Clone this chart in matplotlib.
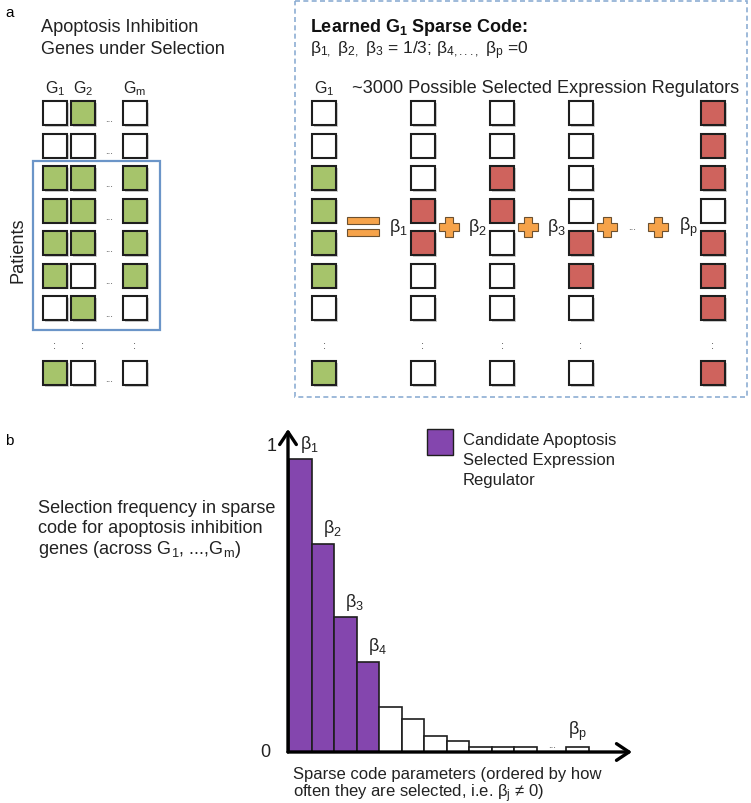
import numpy as np
import matplotlib
matplotlib.use("Agg")
import matplotlib.pyplot as plt
from matplotlib.patches import Rectangle, Polygon

plt.rcParams['font.family'] = ['Liberation Sans', 'DejaVu Sans']
plt.rcParams['mathtext.fontset'] = 'custom'
plt.rcParams['mathtext.rm'] = 'Liberation Sans'
plt.rcParams['mathtext.it'] = 'Liberation Sans:italic'
plt.rcParams['mathtext.bf'] = 'Liberation Sans:bold'
plt.rcParams['mathtext.default'] = 'regular'

# ---- data ----
# panel a, left: patients x genes (1 = gene under selection); last row comes after ":"
gene_labels = ["G$_1$", "G$_2$", "G$_m$"]
gene_g1 = [0, 0, 1, 1, 1, 1, 0, 1]
gene_g2 = [1, 0, 1, 1, 1, 0, 1, 0]
gene_gm = [0, 0, 1, 1, 1, 1, 0, 0]

# panel a, right: sparse code for G1
target_g1 = [0, 0, 1, 1, 1, 1, 0, 1]
reg_b1 = [0, 0, 0, 1, 1, 0, 0, 0]
reg_b2 = [0, 0, 1, 1, 0, 0, 0, 0]
reg_b3 = [0, 0, 0, 0, 1, 1, 0, 0]
reg_bp = [1, 1, 1, 0, 1, 1, 1, 1]
reg_labels = ["β$_1$", "β$_2$", "β$_3$", "β$_p$"]

# panel b: selection frequency of sparse code parameters
sel_freq = [0.957, 0.68, 0.44, 0.294, 0.147, 0.108, 0.052, 0.036, 0.016, 0.016, 0.016, 0.016]
candidate = [1, 1, 1, 1, 0, 0, 0, 0, 0, 0, 0, 0]
bar_labels = ["β$_1$", "β$_2$", "β$_3$", "β$_4$", "", "", "", "", "", "", "", "β$_p$"]

# ---- styles / layout ----
GREEN = '#A6C46B'
RED = '#CF635D'
ORANGE = '#F6A34A'
PURPLE = '#8446AE'
EDGE = '#1e1e1e'
TXT = '#222222'
CELL = 24
ROW0, ROWSTEP = 102, 32.5
FS = 13.1

W, H = 751, 804
fig = plt.figure(figsize=(W / 100, H / 100), dpi=100)
ax = fig.add_axes([0, 0, 1, 1])
ax.set_xlim(0, W)
ax.set_ylim(H, 0)
ax.axis('off')


def row_top(i, n):
    slot = i if i < n - 1 else i + 1
    return ROW0 + slot * ROWSTEP


def column(x, values, color):
    n = len(values)
    for i, v in enumerate(values):
        y = row_top(i, n)
        ax.add_patch(Rectangle((x + 1.5, y + 1.5), CELL, CELL, facecolor='#cfcfcf',
                               edgecolor='none', zorder=1))
        ax.add_patch(Rectangle((x, y), CELL, CELL, facecolor=color if v else 'white',
                               edgecolor=EDGE, lw=1.5, zorder=2))
    ax.text(x + CELL / 2, ROW0 + (n - 1) * ROWSTEP + 17, ':', ha='center', va='center',
            fontsize=8, color='#444444')


def plus(cx, cy, s=10, t=3.6):
    pts = [(-t, -s), (t, -s), (t, -t), (s, -t), (s, t), (t, t), (t, s), (-t, s),
           (-t, t), (-s, t), (-s, -t), (-t, -t)]
    ax.add_patch(Polygon([(cx + px, cy + py) for px, py in pts], closed=True,
                         facecolor=ORANGE, edgecolor='#6b5030', lw=0.8, zorder=3))


# ---- panel a, left ----
ax.text(5, 17, 'a', fontsize=11, va='baseline')
ax.text(41, 32.5, 'Apoptosis Inhibition', fontsize=FS, va='baseline', color=TXT)
ax.text(41, 54, 'Genes under Selection', fontsize=FS, va='baseline', color=TXT)

left_x = [43, 71, 123]
for x, lab, vals in zip(left_x, gene_labels, [gene_g1, gene_g2, gene_gm]):
    column(x, vals, GREEN)
    ax.text(x + CELL / 2, 93, lab, ha='center', va='baseline', fontsize=11.5, color=TXT)
for i in range(len(gene_g1)):
    ax.text(109, row_top(i, len(gene_g1)) + 17, '...', ha='center', va='center',
            fontsize=7, color='#444444')

ax.add_patch(Rectangle((33, 162), 127, 169, fill=False, edgecolor='#6B95C8', lw=1.6, zorder=4))
ax.text(18.5, 250, 'Patients', rotation=90, ha='center', va='center', fontsize=FS, color=TXT)

# ---- panel a, right ----
ax.add_patch(Rectangle((295, 2), 452, 396, fill=False, edgecolor='#8DAED3', lw=1.2,
                       linestyle=(0, (3, 2))))
ax.text(310, 32, 'Learned G$_\\mathbf{1}$ Sparse Code:', fontsize=13, fontweight='bold',
        va='baseline', color='#111111')
ax.text(310, 54, 'β$_{1,}$ β$_{2,}$ β$_3$ = 1/3; β$_{4,...,}$ β$_p$ =0', fontsize=12.5,
        va='baseline', color=TXT)

g1_x = 312
column(g1_x, target_g1, GREEN)
ax.text(g1_x + CELL / 2, 93, 'G$_1$', ha='center', va='baseline', fontsize=11.5, color=TXT)
ax.text(352, 93, '~3000 Possible Selected Expression Regulators', fontsize=FS,
        va='baseline', color=TXT)

reg_x = [411, 490, 569, 701]
for x, vals in zip(reg_x, [reg_b1, reg_b2, reg_b3, reg_bp]):
    column(x, vals, RED)

op_y = 227
# equals sign between target and first regulator
eq_cx = (g1_x + CELL + reg_x[0] - 22) / 2
for dy in (-9, 3):
    ax.add_patch(Rectangle((eq_cx - 16, op_y + dy), 32, 6.5, facecolor=ORANGE,
                           edgecolor='#6b5030', lw=0.8, zorder=3))
for x, lab in zip(reg_x, reg_labels):
    ax.text(x - 22, op_y, lab, ha='left', va='center', fontsize=13, color=TXT)
for x in reg_x[:3]:
    plus(x + CELL + 14, op_y + 1)
plus(reg_x[3] - 43, op_y + 1)
ax.text((reg_x[2] + CELL + 14 + reg_x[3] - 43) / 2, op_y, '...', ha='center', va='center',
        fontsize=7, color='#444444')

# ---- panel b ----
ax.text(5, 445, 'b', fontsize=11, va='baseline')
for y, line in zip([513, 533.5, 554], ['Selection frequency in sparse',
                                       'code for apoptosis inhibition',
                                       'genes (across G$_1$, ...,G$_m$)']):
    ax.text(38, y, line, fontsize=13.1, va='baseline', color=TXT)
for y, line in zip([779, 797], ['Sparse code parameters (ordered by how',
                                'often they are selected, i.e. β$_j$ ≠ 0)']):
    ax.text(293, y, line, fontsize=12, va='baseline', color=TXT)

ax.add_patch(Rectangle((427, 430), 26, 26, facecolor=PURPLE, edgecolor=EDGE, lw=1))
for y, line in zip([445, 465, 485], ['Candidate Apoptosis', 'Selected Expression', 'Regulator']):
    ax.text(463, y, line, fontsize=12, va='baseline', color=TXT)

axb = fig.add_axes([288 / W, 1 - 753 / H, (632 - 288) / W, (753 - 430) / H])
axb.patch.set_visible(False)
unit = 22.55
axb.set_xlim(-0.5 - 1 / unit, -0.5 + (632 - 289) / unit)
axb.set_ylim(0, (753 - 430) / 306)
for s in axb.spines.values():
    s.set_visible(False)
axb.set_xticks([])
axb.set_yticks([])

pos = list(range(len(sel_freq) - 1)) + [len(sel_freq) + 0.3]
colors = [PURPLE if c else 'white' for c in candidate]
axb.bar(pos, sel_freq, width=1.0, color=colors, edgecolor=EDGE, lw=1.2, zorder=2)
for p, h, lab in zip(pos, sel_freq, bar_labels):
    if lab:
        axb.annotate(lab, xy=(p, h), xytext=(0, 4), textcoords='offset points',
                     ha='left' if p < 5 else 'center', va='bottom', fontsize=13, color=TXT)
axb.text((pos[-2] + pos[-1]) / 2, 0.01, '...', ha='center', va='bottom', fontsize=7,
         color='#444444')

arrow = dict(arrowstyle='->,head_length=0.45,head_width=0.3', lw=2.4, color='black',
             shrinkA=0, shrinkB=0, mutation_scale=20)
axb.annotate('', xy=(0, 1), xytext=(0, 0), xycoords='axes fraction', arrowprops=arrow, zorder=3)
axb.annotate('', xy=(1, 0), xytext=(0, 0), xycoords='axes fraction', arrowprops=arrow, zorder=3)
for v, pad in zip([0, 1], [13, 8]):
    axb.annotate(str(v), xy=(0, v), xycoords=('axes fraction', 'data'), xytext=(-pad, 0),
                 textcoords='offset points', ha='right', va='center', fontsize=13,
                 color=TXT)

fig.savefig('out.png', dpi=100)
